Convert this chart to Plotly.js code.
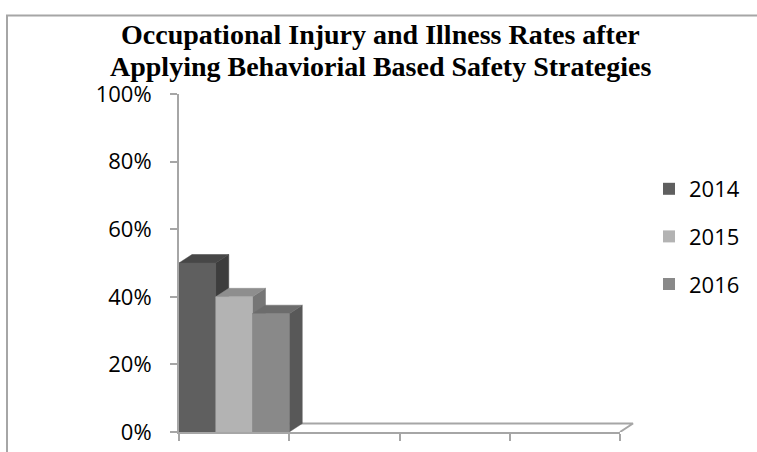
<!DOCTYPE html>
<html>
<head>
<meta charset="utf-8">
<script src="https://cdn.plot.ly/plotly-3.0.1.min.js"></script>
<style>
  html, body { margin: 0; padding: 0; background: #ffffff; }
  #chart { width: 757px; height: 452px; }
</style>
</head>
<body>
<div id="chart"></div>
<script>
// Series and values
const years = ['2014', '2015', '2016'];
const rates = [0.50, 0.40, 0.35];

// Category slots along the floor (only the first one carries bars)
const categorySlots = [0, 1, 2, 3, 4];

// Value axis ticks
const yTickVals = [0, 0.2, 0.4, 0.6, 0.8, 1.0];
const yTickText = ['0%', '20%', '40%', '60%', '80%', '100%'];

const titleLines = [
  'Occupational Injury and Illness Rates after',
  'Applying Behaviorial Based Safety Strategies'
];

// Face shading for the pseudo-3D columns
const frontColors = ['#5f5f5f', '#b3b3b3', '#898989'];
const topColors   = ['#474747', '#8e8e8e', '#6c6c6c'];
const sideColors  = ['#3d3d3d', '#767676', '#585858'];
const axisGray = '#a6a6a6';

// Geometry of the page
const W = 757, H = 452;
const M = { l: 179, r: 115, t: 94, b: 20 };
const plotW = W - M.l - M.r;
const plotH = H - M.t - M.b;
const pxPerSlot = 110.25;                 // width of one category slot
const slotCount = categorySlots.length - 1;
const DX = 13 / pxPerSlot;                 // depth offset, category units
const DY = 8.5 / plotH;                    // depth offset, value units

const paperX = px => (px - M.l) / plotW;
const paperY = py => (H - M.b - py) / plotH;

const traces = [];

// Legend entries / base columns
years.forEach((yr, i) => {
  traces.push({
    type: 'bar',
    name: yr,
    legendgroup: yr,
    x: [i / 3 + 1 / 6],
    y: [rates[i]],
    width: [1 / 3],
    xaxis: 'x',
    yaxis: 'y',
    marker: { color: frontColors[i], line: { width: 0 } },
    hoverinfo: 'skip'
  });
});

// Floor outline
traces.push({
  type: 'scatter',
  mode: 'lines',
  xaxis: 'x2', yaxis: 'y',
  x: [0, DX, slotCount + DX, slotCount],
  y: [0, DY, DY, 0],
  line: { color: axisGray, width: 2 },
  showlegend: false,
  hoverinfo: 'skip'
});

function face(xs, ys, color) {
  traces.push({
    type: 'scatter',
    mode: 'lines',
    xaxis: 'x2', yaxis: 'y',
    x: xs.concat([xs[0]]),
    y: ys.concat([ys[0]]),
    fill: 'toself',
    fillcolor: color,
    line: { color: color, width: 0.5 },
    showlegend: false,
    hoverinfo: 'skip'
  });
}

// Columns, drawn left to right so each one hides its neighbour's side
rates.forEach((v, i) => {
  const x0 = i / 3, x1 = (i + 1) / 3;
  face([x1, x1 + DX, x1 + DX, x1], [0, DY, v + DY, v], sideColors[i]);
  face([x0, x1, x1 + DX, x0 + DX], [v, v, v + DY, v + DY], topColors[i]);
  face([x0, x1, x1, x0], [0, 0, v, v], frontColors[i]);
});

const layout = {
  width: W,
  height: H,
  margin: M,
  paper_bgcolor: '#ffffff',
  plot_bgcolor: 'rgba(0,0,0,0)',
  showlegend: true,
  barmode: 'overlay',
  font: { family: 'Open Sans, sans-serif', size: 22, color: '#000000' },
  xaxis: {
    domain: [0, slotCount * pxPerSlot / plotW],
    range: [0, slotCount],
    anchor: 'y',
    showgrid: false,
    zeroline: false,
    showline: true,
    linecolor: axisGray,
    linewidth: 2,
    tickmode: 'array',
    tickvals: categorySlots,
    ticks: 'outside',
    ticklen: 7,
    tickwidth: 2,
    tickcolor: axisGray,
    showticklabels: false,
    fixedrange: true
  },
  xaxis2: {
    domain: [0, 1],
    range: [0, plotW / pxPerSlot],
    anchor: 'y',
    visible: false,
    showgrid: false,
    zeroline: false,
    fixedrange: true
  },
  yaxis: {
    range: [0, 1],
    anchor: 'x',
    showgrid: false,
    zeroline: false,
    showline: true,
    linecolor: axisGray,
    linewidth: 2,
    tickmode: 'array',
    tickvals: yTickVals,
    ticktext: yTickText,
    ticks: 'outside',
    ticklen: 7,
    tickwidth: 2,
    tickcolor: axisGray,
    ticklabelstandoff: 14,
    tickfont: { family: 'Open Sans, sans-serif', size: 22, color: '#000000' },
    fixedrange: true
  },
  legend: {
    x: paperX(649),
    xanchor: 'left',
    y: paperY(168),
    yanchor: 'top',
    bgcolor: 'rgba(0,0,0,0)',
    borderwidth: 0,
    traceorder: 'grouped',
    tracegroupgap: 16,
    font: { family: 'Open Sans, sans-serif', size: 22, color: '#000000' }
  },
  annotations: titleLines.map((t, k) => ({
    text: '<b>' + t + '</b>',
    xref: 'paper', yref: 'paper',
    x: paperX(380.5),
    y: paperY(k === 0 ? 34.5 : 66.5),
    xanchor: 'center', yanchor: 'middle',
    showarrow: false,
    font: { family: 'Liberation Serif, Times New Roman, serif', size: 28, color: '#000000' }
  })),
  shapes: [{
    type: 'rect',
    xref: 'paper', yref: 'paper',
    x0: paperX(7), x1: paperX(W + 40),
    y0: paperY(15.5), y1: paperY(H + 40),
    line: { color: axisGray, width: 2 },
    fillcolor: 'rgba(0,0,0,0)',
    layer: 'below'
  }]
};

Plotly.newPlot('chart', traces, layout, { displayModeBar: false, staticPlot: true });
</script>
</body>
</html>
